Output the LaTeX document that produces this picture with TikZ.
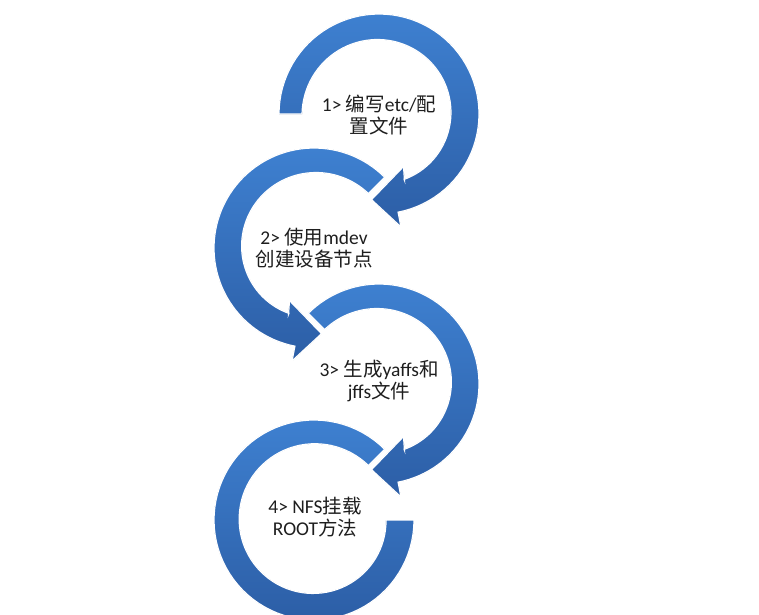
\documentclass[tikz,border=0pt]{standalone}
\usepackage{fontspec}
\setmainfont{Carlito}
\newfontfamily\zhfont{Noto Sans CJK SC}
\newcommand{\zh}[1]{{\zhfont #1}}
\definecolor{arrowtop}{RGB}{62,128,208}
\definecolor{arrowbot}{RGB}{44,94,166}
\definecolor{textgray}{RGB}{30,30,30}

\begin{document}
\begin{tikzpicture}[x=1pt,y=-1pt,
        cyclearrow/.style={top color=arrowtop,bottom color=arrowbot,draw=white,line width=1.2pt,line join=miter},
        steptext/.style={align=center,text=textgray,font=\fontsize{19.5}{22.5}\selectfont}]
                \clip (0,0) rectangle (759,614);
                \fill[white] (0,0) rectangle (759,614);
                % three arrows with heads, the second one mirrored
                \foreach \cx/\cy/\mx/\sa in {379/114/1/180, 314/248/-1/225, 379/384/1/225} {
                    \begin{scope}[shift={(\cx,\cy)},xscale=\mx]
                        \filldraw[cyclearrow] plot[domain=\sa:439,samples=70] (\x:100) -- (439:115) -- (455:86) -- (425:58) -- (429:71)
                            -- plot[domain=429:\sa,samples=70] (\x:{70+7*(429-\x)/(429-\sa)}) -- cycle;
                    \end{scope}
                }
                % last one ends without a head
                \begin{scope}[shift={(314,520)},xscale=-1]
                    \filldraw[cyclearrow] plot[domain=225:540,samples=80] (\x:100)
                        -- plot[domain=540:225,samples=80] (\x:{72+5*(540-\x)/315}) -- cycle;
                \end{scope}
                \node[steptext] (etc) at (379,115) {1> \zh{编写}etc/\zh{配}\\\zh{置文件}};
                \node[steptext] (mdev) at (314,248) {2> \zh{使用}mdev\\\zh{创建设备节点}};
                \node[steptext] (yaffs) at (379,381) {3> \zh{生成}yaffs\zh{和}\\jffs\zh{文件}};
                \node[steptext] (nfs) at (315,517) {4> NFS\zh{挂载}\\ROOT\zh{方法}};
            \end{tikzpicture}
\end{document}
